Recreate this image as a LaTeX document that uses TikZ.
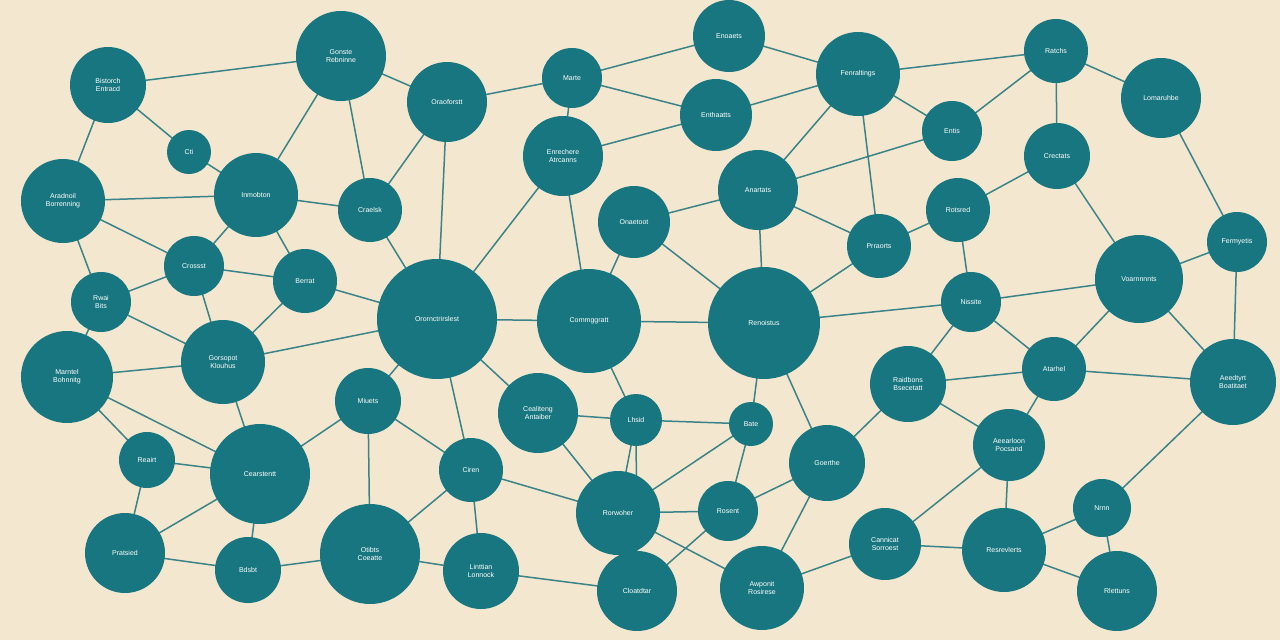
\documentclass[tikz,border=0pt]{standalone}
\usepackage{fontspec}
\setmainfont{Liberation Sans}
\begin{document}
\begin{tikzpicture}[x=1pt,y=-1pt,
  nd/.style={circle,fill=nodec,draw=none,text=white,font=\fontsize{7}{8}\selectfont,align=center,inner sep=0pt},
  ed/.style={draw=edgec,line width=1.5pt}]
\definecolor{nodec}{HTML}{17767F}
\definecolor{edgec}{HTML}{3A8388}
\definecolor{bgc}{HTML}{F4E7CF}
\fill[bgc] (0,0) rectangle (1280,640);
\useasboundingbox (0,0) rectangle (1280,640);
\def\nodelist{
A/108/85/38/{Bistorch\\Entracd},B/341/56/45/{Gonste\\Rebninne},C/189/152/22/{Cti},D/447/102/40/{Oraoforstt},
E/572/78/30/{Marte},F/729/36/36/{Enoaets},G/716/115/36/{Enthaatts},H/858/74/42/{Fenraltings},
I/1056/51/32/{Ratchs},J/1161/98/40/{Lomaruhbe},K/563/156/40/{Enrechere\\Atrcanns},L/952/131/30/{Entis},
M/1057/156/33/{Crectats},N/63/201/42/{Aradnoil\\Borrenning},O/256/195/42/{Inmobton},P/370/210/32/{Craelsk},
Q/634/222/36/{Onaetoot},R/758/190/40/{Anartats},S/958/210/32/{Rotsred},T/879/246/32/{Prraorts},
U/1237/242/30/{Fermyetis},V/194/266/30/{Crossst},W/305/281/32/{Berrat},X/101/302/30/{Rwai\\Bits},
Y/437/319/60/{Orornctrirslest},Z/589/321/52/{Cornmggratt},AA/764/323/56/{Renoistus},AB/971/302/30/{Nissite},
AC/1139/279/44/{Voarnnnnts},AD/67/377/46/{Marntel\\Bohnnitg},AE/223/362/42/{Gorsopot\\Klouhus},AF/368/401/33/{Miuets},
AG/538/413/40/{Cealiteng\\Antaiber},AH/636/420/26/{Lhsid},AI/908/384/38/{Raidbons\\Bsecetatt},AJ/1054/369/32/{Atarhel},
AK/1233/382/43/{Aeedtyrt\\Boatitaet},AL/147/460/28/{Reairt},AM/260/474/50/{Cearstentt},AN/751/424/22/{Bate},
AO/471/470/32/{Ciren},AP/827/463/38/{Goerthe},AQ/1009/445/36/{Aeearloon\\Pocsand},AR/618/513/42/{Rorwoher},
AS/728/511/30/{Rosent},AT/1102/508/29/{Nrnn},AU/125/553/40/{Pratsied},AV/248/570/33/{Bdsbt},
AW/370/554/50/{Otibts\\Coeatte},AX/481/571/38/{Linttian\\Lonnock},AY/637/591/40/{Cloatdtar},AZ/762/588/42/{Awponit\\Rosirese},
BA/885/544/36/{Cannicat\\Sorroest},BB/1004/550/42/{Resrevlerts},BC/1117/591/40/{Rlettuns}}
\foreach \n/\x/\y/\r/\t in \nodelist {\coordinate (\n) at (\x,\y);}
\foreach \a/\b in {A/B,A/C,A/N,B/D,B/O,B/P,C/O,D/E,D/P,D/Y,E/F,E/G,F/H,G/K,G/H,H/I,H/L,H/R,H/T,I/L,I/M,I/J,J/U,M/S,M/AC,L/R,K/Y,K/Z,K/E,Q/R,Q/Z,Q/AA,R/AA,N/O,N/V,N/X,O/P,O/V,O/W,P/Y,V/W,V/X,V/AE,W/Y,W/AE,X/AD,X/AE,Y/Z,Y/AE,Y/AF,Y/AO,Y/AG,Z/AA,Z/AH,AA/AB,AA/AN,AA/AP,AA/T,AB/AC,AB/S,AB/AI,AB/AJ,AC/U,AC/AK,AC/AJ,U/AK,AD/AE,AD/AL,AD/AM,AE/AM,AF/AM,AF/AO,AF/AW,AG/AH,AG/AR,AH/AN,AH/AR,AH/AY,AN/AR,AN/AS,AI/AP,AI/AJ,AI/AQ,AJ/AK,AJ/AQ,AK/AT,AQ/BA,AQ/BB,AT/BB,AT/BC,BB/BC,BB/BA,BA/AZ,AP/AZ,AP/AS,AS/AR,AS/AY,AR/AY,AR/AZ,AO/AR,AO/AX,AW/AO,AW/AX,AX/AY,AM/AV,AM/AU,AL/AU,AU/AV,AV/AW,AM/AL,T/S,T/R}
  \draw[ed] (\a) -- (\b);
\foreach \n/\x/\y/\r/\t in \nodelist {\node[nd,minimum size=2*\r] (n\n) at (\x,\y) {\t};}
\end{tikzpicture}
\end{document}
